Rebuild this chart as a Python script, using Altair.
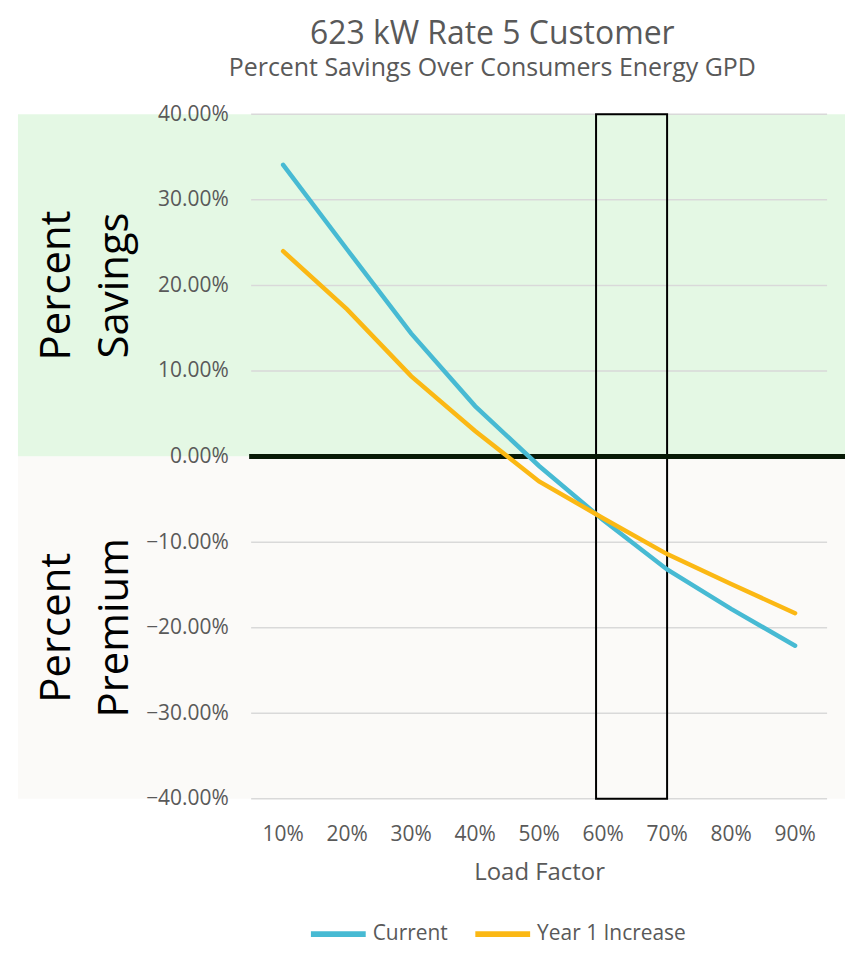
import altair as alt
import pandas as pd

load_factors = ["10%", "20%", "30%", "40%", "50%", "60%", "70%", "80%", "90%"]
current = [0.341, 0.242, 0.144, 0.059, -0.011, -0.074, -0.132, -0.178, -0.221]
year1 = [0.240, 0.172, 0.094, 0.030, -0.029, -0.072, -0.114, -0.149, -0.183]
series_names = ["Current", "Year 1 Increase"]
series_colors = ["#47BAD3", "#FBB814"]
y_ticks = [0.4, 0.3, 0.2, 0.1, 0.0, -0.1, -0.2, -0.3, -0.4]
highlight = {"x1": "60%", "x2": "70%", "y1": 0.4, "y2": -0.4}
bands = [
    {"y1": 0.4, "y2": 0.0, "fill": "#E4F8E4"},
    {"y1": 0.0, "y2": -0.4, "fill": "#FBFAF8"},
]
region_labels = [
    {"text": "Percent\nSavings", "y": 0.2},
    {"text": "Percent\nPremium", "y": -0.2},
]

FONT = "Open Sans"
GRAY = "#595959"
W, H = 578, 687

rows = []
for name, vals in zip(series_names, [current, year1]):
    for lf, v in zip(load_factors, vals):
        rows.append({"lf": lf, "value": v, "series": name})
df = pd.DataFrame(rows)

xscale = alt.Scale(type="band", domain=load_factors, paddingInner=0, paddingOuter=0)
yscale = alt.Scale(domain=[-0.4, 0.4], nice=False, zero=False)

band_layer = alt.Chart(pd.DataFrame(bands)).mark_rect(clip=False).encode(
    y=alt.Y("y1:Q", scale=yscale, axis=alt.Axis(
        format=".2%", values=y_ticks, grid=False, ticks=False, tickSize=0, domain=False,
        labelFont=FONT, labelFontSize=21, labelColor=GRAY, labelPadding=23, title=None,
        zindex=1)),
    y2="y2:Q",
    x=alt.value(-234),
    x2=alt.value(W + 18),
    fill=alt.Fill("fill:N", scale=None),
)

grid_layer = alt.Chart(pd.DataFrame({"y": y_ticks})).mark_rule(
    color="#D9D9D9", strokeWidth=1.5
).encode(
    y=alt.Y("y:Q", scale=yscale),
    x=alt.value(0),
    x2=alt.value(W),
)

zero_layer = alt.Chart(pd.DataFrame({"y": [0.0]})).mark_rule(
    color="#081A06", strokeWidth=5, clip=False
).encode(
    y=alt.Y("y:Q", scale=yscale),
    x=alt.value(-2),
    x2=alt.value(W + 18),
)

box_layer = alt.Chart(pd.DataFrame([highlight])).mark_rect(
    fill=None, stroke="black", strokeWidth=2
).encode(
    x=alt.X("x1:N", scale=xscale, bandPosition=0.39),
    x2=alt.X2("x2", bandPosition=0.5),
    y=alt.Y("y1:Q", scale=yscale),
    y2="y2:Q",
)

line_layer = alt.Chart(df).mark_line(strokeWidth=4.5, strokeCap="round").encode(
    x=alt.X("lf:N", scale=xscale, bandPosition=0.5, sort=load_factors,
            axis=alt.Axis(title="Load Factor", labelAngle=0, ticks=False, tickSize=0,
                          domain=False, grid=False, labelFont=FONT, labelFontSize=21,
                          labelColor=GRAY, labelPadding=36, labelAlign="center",
                          bandPosition=0.5, titleFont=FONT,
                          titleFontSize=24, titleFontWeight="normal", titleColor=GRAY,
                          titlePadding=16)),
    y=alt.Y("value:Q", scale=yscale),
    color=alt.Color("series:N", scale=alt.Scale(domain=series_names, range=series_colors),
                    legend=alt.Legend(title=None, orient="none", direction="horizontal",
                                      legendX=99, legendY=812,
                                      symbolType="M-9,0H1", symbolSize=121,
                                      symbolStrokeWidth=6,
                                      labelFont=FONT, labelFontSize=21, labelColor=GRAY,
                                      labelOffset=2, columnPadding=15)),
)

text_layer = alt.Chart(pd.DataFrame(region_labels)).mark_text(
    angle=270, align="center", baseline="middle", font=FONT, fontSize=42,
    lineBreak="\n", lineHeight=58, color="black", clip=False
).encode(
    y=alt.Y("y:Q", scale=yscale),
    x=alt.value(-195),
    text="text:N",
)

chart = alt.layer(
    band_layer, grid_layer, box_layer, zero_layer, line_layer, text_layer
).properties(
    width=W,
    height=H,
    padding={"left": 10, "top": 8, "right": 0, "bottom": 0},
    title=alt.TitleParams(
        text="623 kW Rate 5 Customer",
        subtitle="Percent Savings Over Consumers Energy GPD",
        font=FONT, fontSize=32, fontWeight="normal", color=GRAY,
        subtitleFont=FONT, subtitleFontSize=25, subtitleColor=GRAY,
        subtitlePadding=6, anchor="middle", frame="group", dx=-47, offset=21,
    ),
).configure_view(stroke=None)

chart.save("out.html", embed_options={"renderer": "svg", "actions": False})
